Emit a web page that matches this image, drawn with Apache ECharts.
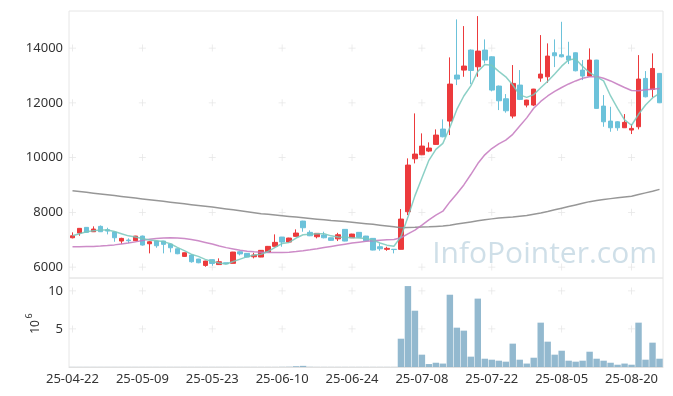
<!DOCTYPE html>
<html><head><meta charset="utf-8">
<script src="https://cdn.jsdelivr.net/npm/echarts/dist/echarts.min.js"></script>
<style>html,body{margin:0;padding:0;background:#fff}#c{width:673px;height:396px}</style>
</head><body><div id="c"></div>
<script>
const dates = ['25-04-22','25-04-23','25-04-24','25-04-25','25-04-28','25-04-29','25-04-30','25-05-02','25-05-07','25-05-08',
'25-05-09','25-05-12','25-05-13','25-05-14','25-05-15','25-05-16','25-05-19','25-05-20','25-05-21','25-05-22',
'25-05-23','25-05-26','25-05-27','25-05-28','25-05-29','25-05-30','25-06-02','25-06-04','25-06-05','25-06-09',
'25-06-10','25-06-11','25-06-12','25-06-13','25-06-16','25-06-17','25-06-18','25-06-19','25-06-20','25-06-23',
'25-06-24','25-06-25','25-06-26','25-06-27','25-06-30','25-07-01','25-07-02','25-07-03','25-07-04','25-07-07',
'25-07-08','25-07-09','25-07-10','25-07-11','25-07-14','25-07-15','25-07-16','25-07-17','25-07-18','25-07-21',
'25-07-22','25-07-23','25-07-24','25-07-25','25-07-28','25-07-29','25-07-30','25-07-31','25-08-01','25-08-04',
'25-08-05','25-08-06','25-08-07','25-08-08','25-08-11','25-08-12','25-08-13','25-08-14','25-08-18','25-08-19',
'25-08-20','25-08-21','25-08-22','25-08-25','25-08-26'];

const opens = [7070,7242,7450,7290,7487,7363,7278,6950,6986,6961,
7132,6851,6950,6950,6840,6668,6390,6438,6292,6060,
6270,6090,6157,6135,6559,6500,6376,6365,6548,6756,
7096,6913,7121,7680,7268,7107,7169,7070,7030,7377,
7070,7268,7132,7048,6742,6647,6650,6647,8020,9956,
10102,10237,10482,11041,11333,13014,13196,13927,13317,13927,
13682,12612,12148,11516,12648,11918,11918,12904,12952,13829,
13757,13708,13829,13196,12977,13562,11881,11333,11308,11089,
11005,11125,12892,12490,13075];
const closes = [7143,7414,7268,7388,7290,7315,7070,7048,6961,7132,
6804,6924,6778,6829,6705,6486,6522,6194,6157,6219,
6130,6194,6120,6548,6480,6365,6438,6610,6756,6902,
6913,7060,7242,7436,7143,7231,7070,6975,7180,6950,
7205,7085,6961,6621,6668,6683,6640,7753,9726,10128,
10420,10347,10822,10760,12685,12868,13343,13182,13890,13562,
12466,12075,11710,12710,12126,12100,12502,13050,13708,13719,
13682,13562,13171,12977,13562,11797,11308,11089,11089,11286,
11066,12868,12221,13255,12002];
const lows = [7048,7143,7250,7280,7280,7194,6924,6851,6876,6950,
6780,6500,6705,6500,6537,6470,6380,6160,6140,6011,
6047,6080,6099,6130,6427,6354,6318,6360,6540,6750,
6742,6905,7110,7290,7130,7048,7050,6960,6950,6940,
7060,7070,6950,6610,6595,6595,6500,6640,7900,9788,
10090,10200,10470,10740,10822,12648,12952,12685,12952,13440,
12420,11735,11640,11432,12100,11834,11880,12770,12733,13306,
13660,13416,13150,12831,12960,11790,11125,10943,10980,11080,
10859,11030,12200,12197,11990];
const highs = [7268,7420,7460,7487,7520,7436,7290,7070,7048,7140,
7150,6950,6960,6960,6850,6680,6530,6470,6300,6230,
6280,6318,6160,6555,6580,6510,6522,6620,6770,7194,
7100,7070,7377,7690,7340,7240,7290,7080,7250,7390,
7215,7280,7140,7060,6865,6742,6655,8119,9971,11614,
10884,10555,11030,11395,13660,15048,14804,13950,15169,14318,
13700,12630,12320,13380,13196,12110,12510,14475,14172,14318,
14961,14230,13840,13562,13989,13570,12283,11856,11330,11590,
11224,13744,13160,13806,13090];

const ma5 = [7143,7220,7290,7330,7352,7350,7300,7220,7140,7100,
7040,6990,6960,6930,6850,6720,6600,6470,6390,6280,
6200,6150,6110,6200,6290,6380,6440,6470,6570,6720,
6860,6900,7060,7180,7200,7220,7220,7140,7100,7085,
7070,7060,7040,6990,6880,6800,6760,7110,7830,8600,
9250,9900,10300,10520,11100,11760,12250,12620,13150,13400,
13370,13150,12950,12650,12290,12200,12300,12550,12790,13050,
13340,13570,13600,13330,13100,12950,12800,12250,11800,11380,
11180,11580,11920,12180,12345];
const ma20 = [6740,6745,6750,6755,6765,6785,6810,6845,6880,6920,
6970,7020,7045,7060,7070,7060,7040,7005,6960,6900,
6840,6770,6710,6660,6610,6580,6560,6545,6530,6530,
6535,6545,6565,6595,6630,6670,6715,6755,6795,6835,
6875,6910,6940,6960,6980,6995,7005,7070,7210,7350,
7530,7720,7900,8040,8380,8680,9000,9380,9780,10100,
10330,10500,10640,10850,11150,11450,11800,12050,12250,12420,
12560,12690,12800,12900,12950,12960,12900,12800,12680,12560,
12450,12440,12480,12500,12520];
const ma120 = [8787,8760,8730,8700,8670,8640,8610,8580,8550,8520,
8490,8460,8430,8400,8370,8340,8310,8280,8250,8220,
8190,8160,8125,8090,8055,8020,7985,7950,7925,7900,
7875,7850,7825,7800,7775,7750,7725,7700,7680,7660,
7635,7610,7585,7560,7530,7500,7470,7440,7445,7450,
7460,7470,7485,7500,7530,7570,7610,7650,7690,7730,
7760,7790,7810,7830,7855,7880,7930,7975,8030,8090,
8150,8210,8270,8330,8390,8430,8465,8500,8530,8560,
8590,8650,8710,8770,8838];

// volume in millions of shares
const volumes = [0.01,0.01,0.01,0.01,0.01,0.01,0.01,0.01,0.01,0.01,
0.01,0.01,0.01,0.01,0.01,0.01,0.01,0.01,0.01,0.01,
0.01,0.01,0.01,0.01,0.01,0.01,0.01,0.01,0.01,0.01,
0.02,0.03,0.1,0.15,0.02,0.01,0.01,0.01,0.01,0.01,
0.01,0.01,0.01,0.01,0.01,0.01,0.01,3.72,10.64,7.4,
1.62,0.39,0.56,0.45,9.5,5.17,4.78,1.36,8.99,1.09,
0.96,0.83,0.7,3.07,0.96,0.45,1.22,5.83,3.33,1.62,
2.14,0.83,0.7,0.83,2.01,1.09,0.83,0.56,0.3,0.45,
0.3,5.83,0.96,3.2,1.09];

const priceTicks = [6000,8000,10000,12000,14000];
const volTicks = [5,10];
const tickIdx = [0,10,20,30,40,50,60,70,80];

const font = "'Noto Sans', sans-serif";
const candleData = opens.map((o,i)=>[o, closes[i], lows[i], highs[i]]);
const crossPath = 'path://M4,0h1v4h4v1h-4v4h-1v-4h-4v-1h4z';
const crossMain = [], crossVol = [];
tickIdx.forEach(i=>{ priceTicks.forEach(v=>crossMain.push([dates[i], v])); volTicks.forEach(v=>crossVol.push([dates[i], v])); });

const chart = echarts.init(document.getElementById('c'), null, {renderer:'canvas'});
chart.setOption({
  animation:false,
  backgroundColor:'#fff',
  textStyle:{fontFamily:font},
  grid:[
    {left:69,right:10,top:11,height:267,show:true,borderColor:'#e6e6e6',borderWidth:1,backgroundColor:'transparent'},
    {left:69,right:10,top:278,height:89,show:true,borderColor:'#e6e6e6',borderWidth:1,backgroundColor:'transparent'}
  ],
  xAxis:[
    {type:'category',data:dates,gridIndex:0,boundaryGap:true,axisLine:{show:false},axisTick:{show:false},axisLabel:{show:false},splitLine:{show:false}},
    {type:'category',data:dates,gridIndex:1,boundaryGap:true,axisLine:{show:true,lineStyle:{color:'#e0e0e0'}},axisTick:{show:false},
     axisLabel:{interval:9,color:'#333',fontSize:13,margin:6,fontFamily:font},splitLine:{show:false}}
  ],
  yAxis:[
    {type:'value',gridIndex:0,min:5600,max:15355,splitNumber:5,scale:true,axisLine:{show:false},axisTick:{show:false},splitLine:{show:false},
     axisLabel:{color:'#333',fontSize:13,margin:6,showMinLabel:false,showMaxLabel:false,fontFamily:font,formatter:v=>String(v)}},
    {type:'value',gridIndex:1,min:0,max:11.7,interval:5,axisLine:{show:false},axisTick:{show:false},splitLine:{show:false},
     axisLabel:{color:'#333',fontSize:13,margin:6,showMinLabel:false,showMaxLabel:false,fontFamily:font,formatter:v=>String(v)}}
  ],
  graphic:[
    {type:'text',right:16,top:239,z:0,silent:true,style:{text:'InfoPointer.com',fontSize:30,fontFamily:"'Open Sans', sans-serif",fill:'rgba(130,170,195,0.38)'}},
    {type:'text',x:36,y:327,rotation:Math.PI/2,silent:true,style:{text:'10',fontSize:12,fontFamily:font,fill:'#333',align:'center',verticalAlign:'middle'}},
    {type:'text',x:29,y:316,rotation:Math.PI/2,silent:true,style:{text:'6',fontSize:9,fontFamily:font,fill:'#333',align:'center',verticalAlign:'middle'}}
  ],
  series:[
    {type:'scatter',xAxisIndex:0,yAxisIndex:0,data:crossMain,symbol:crossPath,symbolSize:7,silent:true,z:1,itemStyle:{color:'#e0e0e0'}},
    {type:'scatter',xAxisIndex:1,yAxisIndex:1,data:crossVol,symbol:crossPath,symbolSize:7,silent:true,z:1,itemStyle:{color:'#e0e0e0'}},
    {type:'candlestick',xAxisIndex:0,yAxisIndex:0,data:candleData,barWidth:'72%',z:3,
     itemStyle:{color:'#ec3a3c',color0:'#6cc2da',borderColor:'#ec3a3c',borderColor0:'#6cc2da',borderWidth:1}},
    {type:'line',name:'MA120',xAxisIndex:0,yAxisIndex:0,data:ma120,showSymbol:false,symbol:'none',z:4,lineStyle:{color:'rgba(140,140,140,0.9)',width:1.5}},
    {type:'line',name:'MA20',xAxisIndex:0,yAxisIndex:0,data:ma20,showSymbol:false,symbol:'none',z:4,lineStyle:{color:'rgba(196,120,190,0.85)',width:1.5}},
    {type:'line',name:'MA5',xAxisIndex:0,yAxisIndex:0,data:ma5,showSymbol:false,symbol:'none',z:4,lineStyle:{color:'rgba(120,200,188,0.85)',width:1.5}},
    {type:'bar',xAxisIndex:1,yAxisIndex:1,data:volumes,barCategoryGap:'8%',z:3,
     itemStyle:{color:'rgba(120,168,195,0.8)',borderWidth:0}}
  ]
});
</script></body></html>
